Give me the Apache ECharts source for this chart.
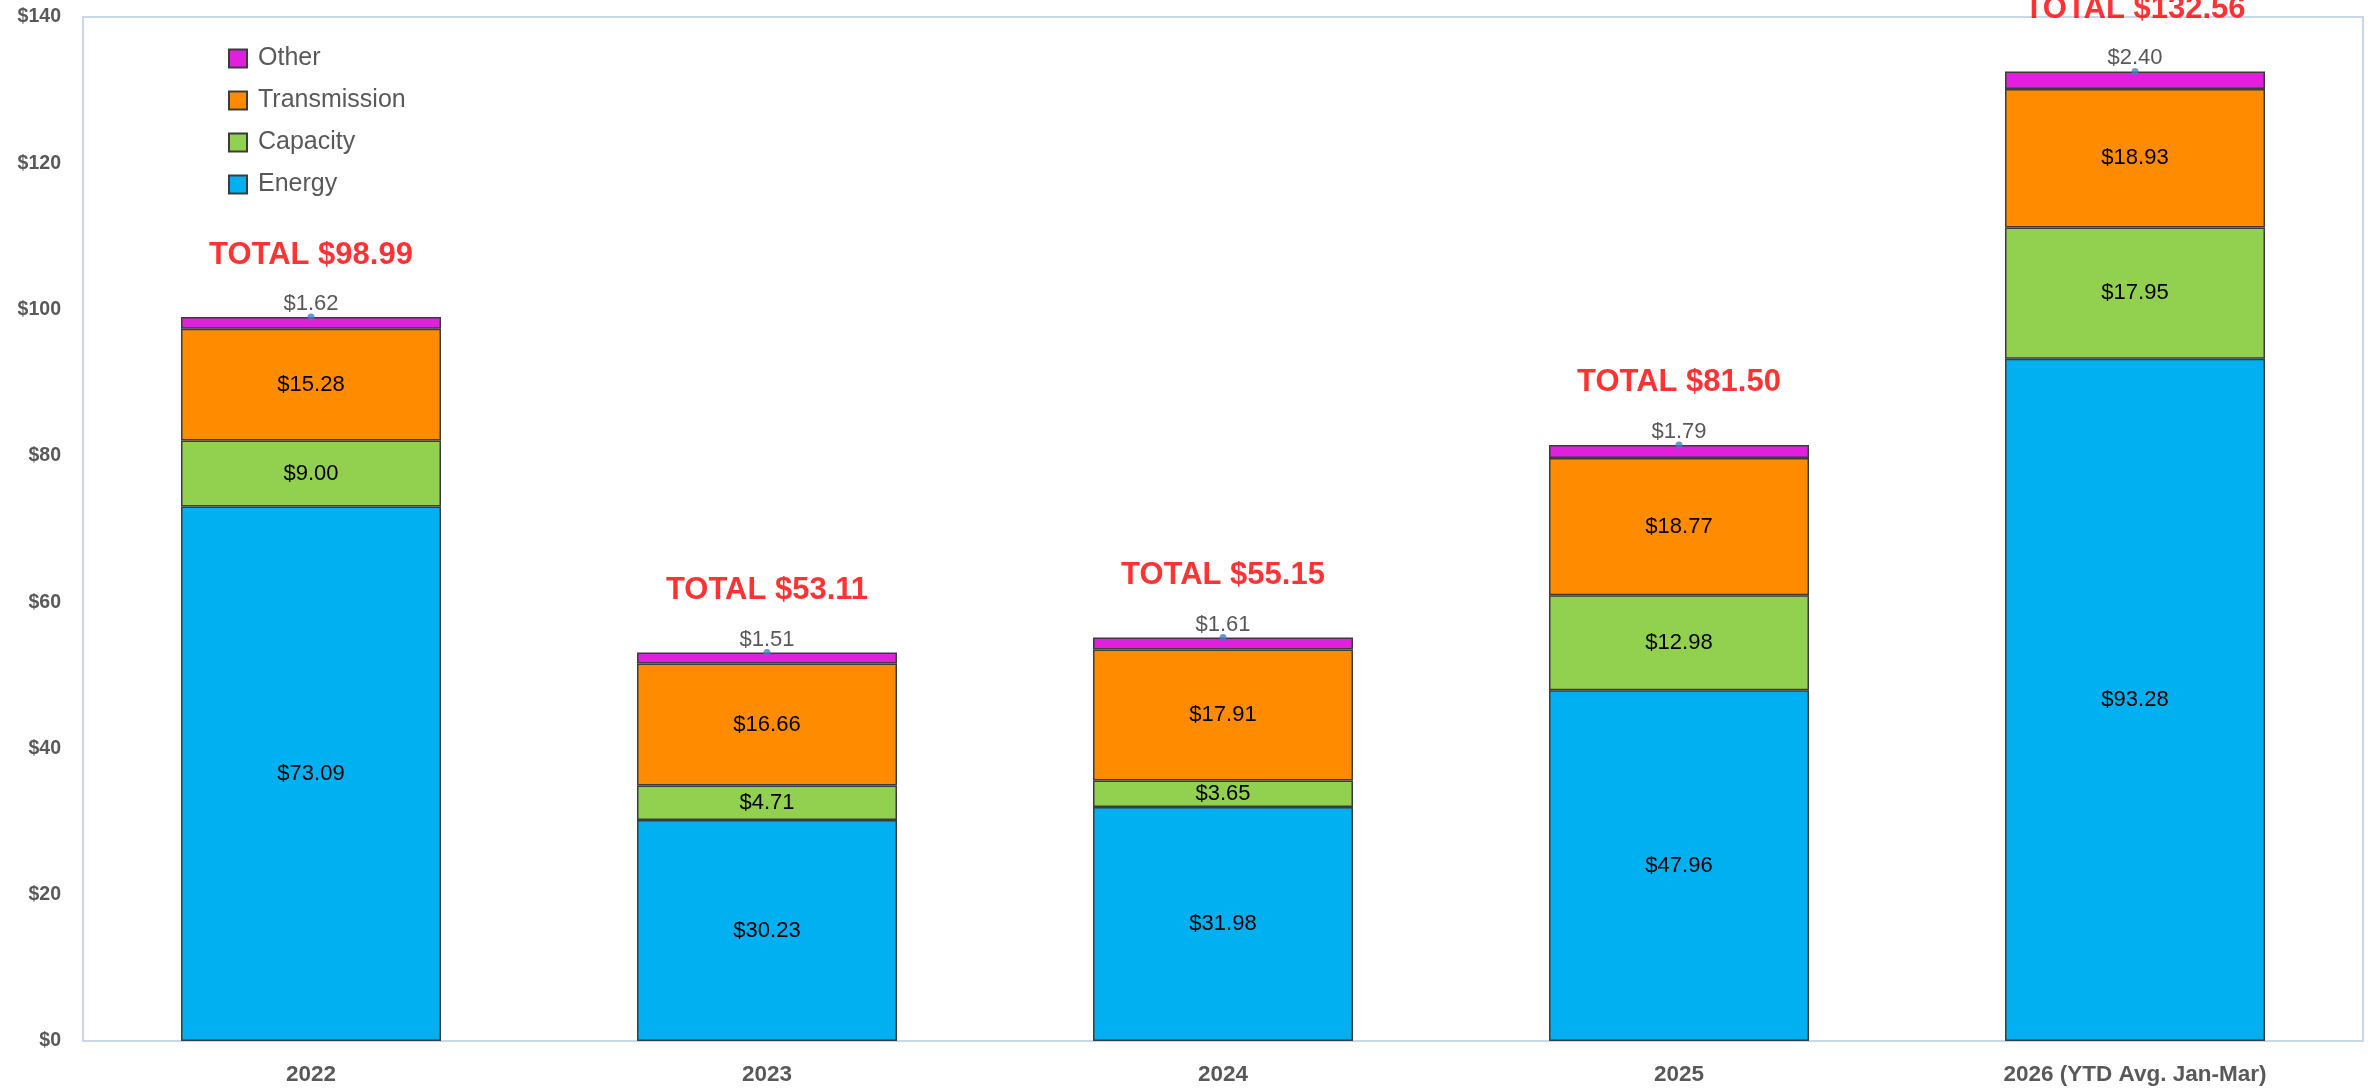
<!doctype html>
<html>
<head>
<meta charset="utf-8">
<title>Cost components by year</title>
<script src="https://cdn.jsdelivr.net/npm/echarts@6/dist/echarts.min.js"></script>
<style>
  html, body { margin: 0; padding: 0; background: #fff; }
  #chart { width: 2371px; height: 1088px; }
</style>
</head>
<body>
<div id="chart"></div>
<script>
// data
var years = ['2022', '2023', '2024', '2025', '2026 (YTD Avg. Jan-Mar)'];
var energy = [73.09, 30.23, 31.98, 47.96, 93.28];
var capacity = [9.00, 4.71, 3.65, 12.98, 17.95];
var transmission = [15.28, 16.66, 17.91, 18.77, 18.93];
var other = [1.62, 1.51, 1.61, 1.79, 2.40];
var totals = [98.99, 53.11, 55.15, 81.50, 132.56];

var font = '"Liberation Sans", Arial, sans-serif';
var grey = '#595959';

function money(v) { return '$' + Number(v).toFixed(2); }

function barSeries(name, data, color, labelOpt) {
    return {
        name: name,
        type: 'bar',
        stack: 'cost',
        data: data,
        barWidth: 260,
        itemStyle: { color: color, borderColor: '#3c3c3c', borderWidth: 1.5 },
        label: labelOpt || {
            show: true,
            position: 'inside',
            color: '#000',
            fontFamily: font,
            fontSize: 22,
            formatter: function (p) { return money(p.value); }
        },
        emphasis: { disabled: true }
    };
}

var myChart = echarts.init(document.getElementById('chart'));
var option = {
    animation: false,
    backgroundColor: '#fff',
    grid: {
        left: 83, right: 8, top: 17, bottom: 47,
        show: true, borderColor: '#C9D7EA', borderWidth: 2
    },
    legend: {
        orient: 'vertical',
        left: 223,
        top: 41,
        icon: 'rect',
        itemWidth: 18,
        itemHeight: 18,
        itemGap: 17,
        data: ['Other', 'Transmission', 'Capacity', 'Energy'],
        textStyle: { color: grey, fontFamily: font, fontSize: 25, lineHeight: 25, padding: [0, 0, 0, 6] }
    },
    xAxis: {
        type: 'category',
        data: years,
        axisLine: { show: false },
        axisTick: { show: false },
        axisLabel: { color: grey, fontFamily: font, fontSize: 22.5, fontWeight: 'bold', margin: 22 }
    },
    yAxis: {
        type: 'value',
        min: 0, max: 140, interval: 20,
        splitLine: { show: false },
        axisLine: { show: false },
        axisLabel: {
            color: grey, fontFamily: font, fontSize: 19.5, fontWeight: 'bold', margin: 22,
            formatter: function (v) { return '$' + v; }
        }
    },
    series: [
        barSeries('Energy', energy, '#00B0F0'),
        barSeries('Capacity', capacity, '#92D050'),
        barSeries('Transmission', transmission, '#FF8C00'),
        barSeries('Other', other, '#E020DC', {
            show: true,
            position: 'top',
            distance: 2,
            color: grey,
            fontFamily: font,
            fontSize: 22,
            formatter: function (p) { return money(p.value); }
        }),
        {
            name: 'Total',
            type: 'scatter',
            data: totals,
            symbolSize: 7,
            itemStyle: { color: '#4A7CC4' },
            label: {
                show: true,
                position: 'top',
                distance: 43,
                color: '#FF0000',
                fontFamily: font,
                fontSize: 31,
                fontWeight: 'bold',
                formatter: function (p) { return 'TOTAL ' + money(p.value); }
            },
            emphasis: { disabled: true },
            z: 5
        }
    ]
};
myChart.setOption(option);
</script>
</body>
</html>
